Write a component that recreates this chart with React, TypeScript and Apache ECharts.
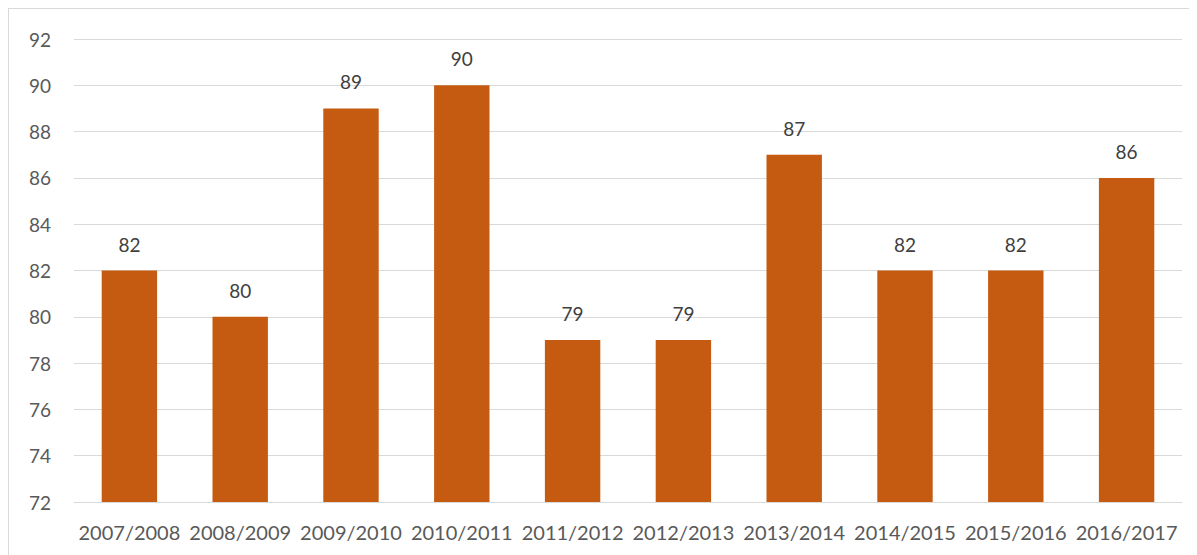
import React, { useEffect, useRef } from "react";
import * as echarts from "echarts";

const categories = ["2007/2008", "2008/2009", "2009/2010", "2010/2011", "2011/2012", "2012/2013", "2013/2014", "2014/2015", "2015/2016", "2016/2017"];
const values = [82, 80, 89, 90, 79, 79, 87, 82, 82, 86];
const yMin = 72;
const yMax = 92;
const yStep = 2;

export default function App() {
  const ref = useRef<HTMLDivElement>(null);
  useEffect(() => {
    if (!ref.current) return;
    const chart = echarts.init(ref.current, undefined, { renderer: "svg" });
    chart.setOption({
      animation: false,
      backgroundColor: "#ffffff",
      grid: { left: 65, right: 15, top: 30, bottom: 53 },
      xAxis: {
        type: "category",
        data: categories,
        axisLine: { show: true, lineStyle: { color: "#d9d9d9", width: 1 } },
        axisTick: { show: false },
        axisLabel: { color: "#595959", fontSize: 20, fontFamily: "Lato", margin: 20, interval: 0 },
      },
      yAxis: {
        type: "value",
        min: yMin,
        max: yMax,
        interval: yStep,
        axisLine: { show: false },
        axisTick: { show: false },
        splitLine: { lineStyle: { color: "#d9d9d9", width: 1 } },
        axisLabel: { color: "#595959", fontSize: 19, fontFamily: "Lato", margin: 23 },
      },
      series: [
        {
          type: "bar",
          data: values,
          barWidth: "50%",
          itemStyle: { color: "#C55A11" },
          label: {
            show: true,
            position: "top",
            distance: 17,
            color: "#404040",
            fontSize: 19,
            fontFamily: "Lato",
          },
        },
      ],
    });
    return () => chart.dispose();
  }, []);
  return (
    <div
      ref={ref}
      style={{
        width: 1188,
        height: 546,
        borderTop: "1px solid #d9d9d9",
        borderLeft: "1px solid #d9d9d9",
      }}
    />
  );
}
